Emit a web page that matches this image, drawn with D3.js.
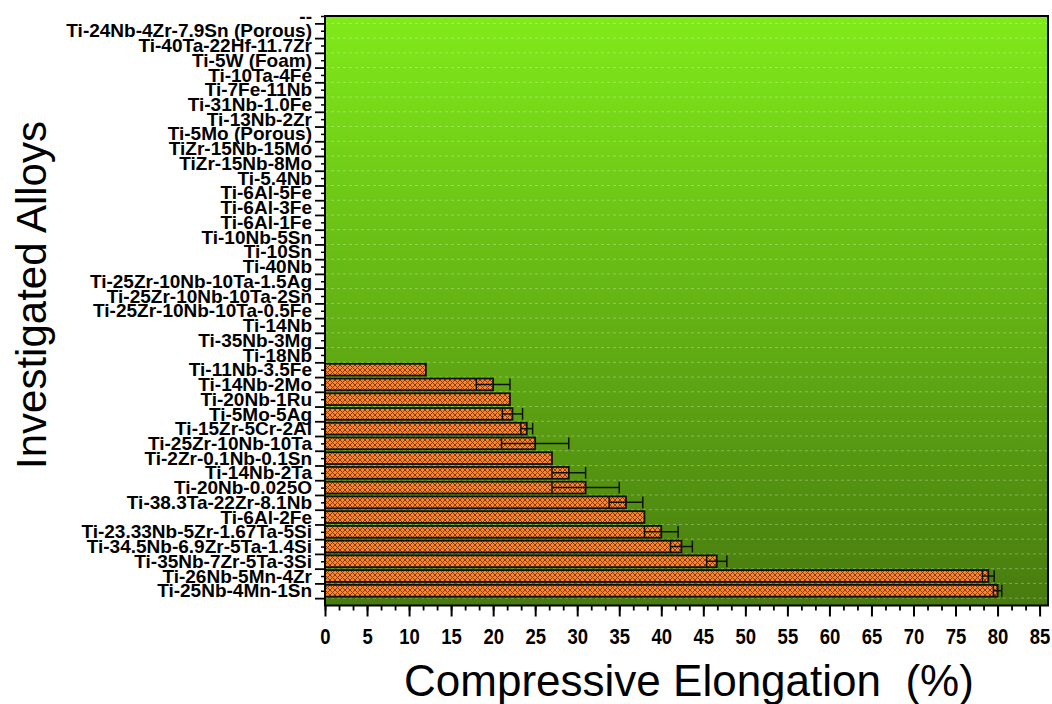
<!DOCTYPE html>
<html lang="en">
<head>
    <meta charset="UTF-8">
    <title>Compressive Elongation of Investigated Alloys</title>
    <script src="https://d3js.org/d3.v7.min.js"></script>
    <style>
        body { margin: 0; background: #fff; }
        .alloy-label { font: bold 19px "Liberation Sans", Arial, sans-serif; }
        .axis-title { font: 44px "Liberation Sans", Arial, sans-serif; }
        .y-title { font: 42px "Liberation Sans", Arial, sans-serif; }
    </style>
</head>
<body>
    <script>
        // top to bottom, as printed on the y axis
        const alloys = [
            "--",
            "Ti-24Nb-4Zr-7.9Sn (Porous)",
            "Ti-40Ta-22Hf-11.7Zr",
            "Ti-5W (Foam)",
            "Ti-10Ta-4Fe",
            "Ti-7Fe-11Nb",
            "Ti-31Nb-1.0Fe",
            "Ti-13Nb-2Zr",
            "Ti-5Mo (Porous)",
            "TiZr-15Nb-15Mo",
            "TiZr-15Nb-8Mo",
            "Ti-5.4Nb",
            "Ti-6Al-5Fe",
            "Ti-6Al-3Fe",
            "Ti-6Al-1Fe",
            "Ti-10Nb-5Sn",
            "Ti-10Sn",
            "Ti-40Nb",
            "Ti-25Zr-10Nb-10Ta-1.5Ag",
            "Ti-25Zr-10Nb-10Ta-2Sn",
            "Ti-25Zr-10Nb-10Ta-0.5Fe",
            "Ti-14Nb",
            "Ti-35Nb-3Mg",
            "Ti-18Nb",
            "Ti-11Nb-3.5Fe",
            "Ti-14Nb-2Mo",
            "Ti-20Nb-1Ru",
            "Ti-5Mo-5Ag",
            "Ti-15Zr-5Cr-2Al",
            "Ti-25Zr-10Nb-10Ta",
            "Ti-2Zr-0.1Nb-0.1Sn",
            "Ti-14Nb-2Ta",
            "Ti-20Nb-0.025O",
            "Ti-38.3Ta-22Zr-8.1Nb",
            "Ti-6Al-2Fe",
            "Ti-23.33Nb-5Zr-1.67Ta-5Si",
            "Ti-34.5Nb-6.9Zr-5Ta-1.4Si",
            "Ti-35Nb-7Zr-5Ta-3Si",
            "Ti-26Nb-5Mn-4Zr",
            "Ti-25Nb-4Mn-1Sn"
        ]

        // compressive elongation (%), null = no data
        const elongation = [
            null, null, null, null, null, null, null, null, null, null,
            null, null, null, null, null, null, null, null, null, null,
            null, null, null, null,
            12, 20, 22, 22.3, 24, 25, 27, 29, 31, 35.8,
            38, 40, 42.4, 46.6, 78.9, 80
        ]

        const elongationErr = [
            0, 0, 0, 0, 0, 0, 0, 0, 0, 0,
            0, 0, 0, 0, 0, 0, 0, 0, 0, 0,
            0, 0, 0, 0,
            0, 2, 0, 1.2, 0.7, 4, 0, 2, 4, 2,
            0, 2, 1.3, 1.2, 0.7, 0.5
        ]

        const xTicks = d3.range(0, 86, 5)

        const W = 1052, H = 704
        const plot = {left: 325, right: 1048, top: 16, bottom: 605.5}

        const svg = d3.select("body").append("svg")
            .attr("width", W)
            .attr("height", H)

        const x = d3.scaleLinear()
            .domain([0, 86])
            .range([plot.left, plot.right])

        // category index from the top; "--" sits on the top frame
        const y = d3.scaleLinear()
            .domain([0, alloys.length])
            .range([plot.top, plot.bottom])

        const step = y(1) - y(0)
        const barH = step * 0.8

        const defs = svg.append("defs")

        const grad = defs.append("linearGradient")
            .attr("id", "bg")
            .attr("x1", 0).attr("y1", 0)
            .attr("x2", 0).attr("y2", 1)
        grad.append("stop").attr("offset", "0%").attr("stop-color", "#80ea1a")
        grad.append("stop").attr("offset", "100%").attr("stop-color", "#487b0f")

        const pat = defs.append("pattern")
            .attr("id", "hatch")
            .attr("patternUnits", "userSpaceOnUse")
            .attr("width", 5)
            .attr("height", 5)
        pat.append("rect")
            .attr("width", 5).attr("height", 5)
            .attr("fill", "#f8862a")
        pat.append("path")
            .attr("d", "M0,0L5,5M5,0L0,5")
            .attr("stroke", "#8a3a12")
            .attr("stroke-width", 1)

        svg.append("rect")
            .attr("x", plot.left)
            .attr("y", plot.top)
            .attr("width", plot.right - plot.left)
            .attr("height", plot.bottom - plot.top)
            .attr("fill", "url(#bg)")

        // dashed grid at category boundaries
        svg.append("g")
            .selectAll("line")
            .data(d3.range(0.5, alloys.length, 1))
            .enter().append("line")
            .attr("x1", plot.left)
            .attr("x2", plot.right)
            .attr("y1", d => y(d))
            .attr("y2", d => y(d))
            .attr("stroke", "rgba(255,255,255,0.3)")
            .attr("stroke-width", 1)
            .attr("stroke-dasharray", "3,3")

        const rows = alloys.map((a, i) => ({name: a, i: i, v: elongation[i], e: elongationErr[i]}))
            .filter(d => d.v != null)

        svg.append("g")
            .selectAll("rect")
            .data(rows)
            .enter().append("rect")
            .attr("x", x(0))
            .attr("y", d => y(d.i) - barH / 2)
            .attr("width", d => x(d.v) - x(0))
            .attr("height", barH)
            .attr("fill", "url(#hatch)")
            .attr("stroke", "#111")
            .attr("stroke-width", 1.8)

        const errG = svg.append("g")
            .attr("stroke", "#111")
            .attr("stroke-width", 1.5)
        const errRows = rows.filter(d => d.e > 0)
        errG.selectAll(".err")
            .data(errRows)
            .enter().append("line")
            .attr("x1", d => x(d.v - d.e))
            .attr("x2", d => x(d.v + d.e))
            .attr("y1", d => y(d.i))
            .attr("y2", d => y(d.i))
        errG.selectAll(".capL")
            .data(errRows)
            .enter().append("line")
            .attr("x1", d => x(d.v - d.e))
            .attr("x2", d => x(d.v - d.e))
            .attr("y1", d => y(d.i) - barH / 2)
            .attr("y2", d => y(d.i) + barH / 2)
        errG.selectAll(".capR")
            .data(errRows)
            .enter().append("line")
            .attr("x1", d => x(d.v + d.e))
            .attr("x2", d => x(d.v + d.e))
            .attr("y1", d => y(d.i) - barH / 2)
            .attr("y2", d => y(d.i) + barH / 2)

        // frame
        svg.append("rect")
            .attr("x", plot.left)
            .attr("y", plot.top)
            .attr("width", plot.right - plot.left)
            .attr("height", plot.bottom - plot.top)
            .attr("fill", "none")
            .attr("stroke", "#000")
            .attr("stroke-width", 2)

        // y axis: major ticks on boundaries, labels on categories
        svg.append("g")
            .attr("transform", "translate(" + plot.left + ",0)")
            .call(d3.axisLeft(y).tickValues(d3.range(0.5, alloys.length, 1)).tickSize(10).tickFormat(""))
            .call(g => g.select(".domain").remove())
            .selectAll("line").attr("stroke", "#000").attr("stroke-width", 1.8)

        const yLab = svg.append("g")
            .attr("transform", "translate(" + plot.left + ",0)")
            .call(d3.axisLeft(y).tickValues(d3.range(0, alloys.length)).tickSize(4).tickPadding(9)
                .tickFormat(i => alloys[i]))
            .call(g => g.select(".domain").remove())
        yLab.selectAll("line").attr("stroke", "#000").attr("stroke-width", 1.5)
        yLab.selectAll("text")
            .attr("class", "alloy-label")
            .attr("fill", "#000")
            .attr("font-family", null)
            .attr("font-size", null)

        // x axis
        svg.append("g")
            .attr("transform", "translate(0," + plot.bottom + ")")
            .call(d3.axisBottom(x).tickValues(d3.range(0, 86, 5 / 3)).tickSize(5).tickFormat(""))
            .call(g => g.select(".domain").remove())
            .selectAll("line").attr("stroke", "#000").attr("stroke-width", 1.8)

        const xAx = svg.append("g")
            .attr("transform", "translate(0," + plot.bottom + ")")
            .call(d3.axisBottom(x).tickValues(xTicks).tickSize(11).tickPadding(12).tickFormat(d3.format("d")))
            .call(g => g.select(".domain").remove())
        xAx.selectAll("line").attr("stroke", "#000").attr("stroke-width", 2)
        xAx.selectAll("text")
            .attr("fill", "#000")
            .style("font-family", "'Liberation Sans', Arial, sans-serif")
            .style("font-weight", "bold")
            .style("font-size", "22px")
            .attr("transform", "scale(0.84,1)")

        svg.append("text")
            .attr("class", "axis-title")
            .attr("x", 689)
            .attr("y", 696)
            .attr("text-anchor", "middle")
            .style("white-space", "pre")
            .text("Compressive Elongation  (%)")

        svg.append("text")
            .attr("class", "y-title")
            .attr("transform", "translate(46,295) rotate(-90)")
            .attr("text-anchor", "middle")
            .text("Investigated Alloys")
    </script>
</body>
</html>
